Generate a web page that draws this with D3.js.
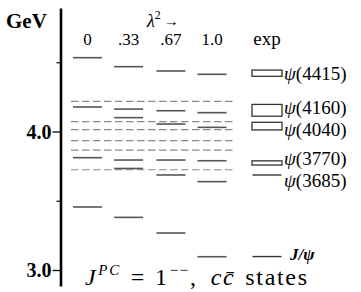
<!DOCTYPE html>
<html>
<head>
<meta charset="utf-8">
<script src="https://cdn.jsdelivr.net/npm/d3@7"></script>
<style>
  body { margin: 0; background: #fff; }
  svg { display: block; }
  text { font-family: "Liberation Serif", serif; fill: #000; }
  .level { stroke: #555; stroke-width: 1.6; }
  .threshold { stroke: #8a8a8a; stroke-width: 1.2; stroke-dasharray: 7.5 3.5; }
  .exp-box { fill: #fff; stroke: #333; stroke-width: 1.3; }
  .exp-line { stroke: #333; stroke-width: 1.4; }
</style>
</head>
<body>
<svg id="chart" width="361" height="292" font-family="Liberation Serif"></svg>
<script>
  // model strength columns
  const lambdaSq = [0, 0.33, 0.67, 1.0];
  const colLabels = ['0', '.33', '.67', '1.0'];

  // predicted 1-- charmonium levels (GeV) for each lambda^2
  const levels0 = [4.533, 4.177, 3.811, 3.455];
  const levels33 = [4.468, 4.162, 4.100, 3.794, 3.733, 3.380];
  const levels67 = [4.437, 4.150, 4.054, 3.794, 3.686, 3.267];
  const levels100 = [4.413, 4.136, 4.030, 3.789, 3.638, 3.096];

  // open-charm thresholds (dashed)
  const thresholds = [4.217, 4.072, 4.014, 3.934, 3.866, 3.724];

  // experimental states
  const expNames = ['ψ(4415)', 'ψ(4160)', 'ψ(4040)', 'ψ(3770)', 'ψ(3685)', 'J/ψ'];
  const expMass = [4.421, 4.153, 4.039, 3.773, 3.686, 3.097];
  const expWidth = [0.045, 0.085, 0.055, 0.03, 0, 0];

  const FONT = 'Liberation Serif';
  const svg = d3.select('#chart');

  const y = d3.scaleLinear().domain([2.8845, 4.8917]).range([286, 8]);
  const x = d3.scaleLinear().domain([0, 1]).range([87.5, 212]);
  const expX = x(1) + 55;
  const half = 14.5;
  const axisX = 60.5;

  // axis
  const axisMajor = d3.axisLeft(y)
    .tickValues([3.0, 4.0])
    .tickSize(8)
    .tickSizeOuter(0)
    .tickPadding(1)
    .tickFormat(d3.format('.1f'));

  const gMajor = svg.append('g')
    .attr('transform', `translate(${axisX},0)`)
    .call(axisMajor)
    .attr('font-family', FONT);
  gMajor.select('.domain').attr('stroke', '#000').attr('stroke-width', 2.6);
  gMajor.selectAll('.tick line').attr('stroke-width', 1.3);
  gMajor.selectAll('.tick text')
    .attr('font-family', FONT)
    .attr('font-weight', 'bold')
    .attr('font-size', 20)
    .attr('dy', '0.33em');

  const gMinor = svg.append('g')
    .attr('transform', `translate(${axisX},0)`)
    .call(d3.axisLeft(y).tickValues([3.5, 4.5]).tickSize(4).tickFormat(''));
  gMinor.select('.domain').remove();
  gMinor.selectAll('.tick line').attr('stroke-width', 1.2);

  svg.append('text')
    .attr('x', 6).attr('y', 28)
    .attr('font-family', FONT)
    .attr('font-weight', 'bold').attr('font-size', 21)
    .text('GeV');

  // header
  const lam = svg.append('text')
    .attr('x', 147).attr('y', 27)
    .attr('font-family', FONT)
    .attr('font-size', 18);
  lam.append('tspan').attr('font-style', 'italic').text('λ');
  lam.append('tspan').attr('font-size', 12).attr('dy', -8).text('2');
  lam.append('tspan').attr('dy', 7).attr('dx', 3).attr('font-weight', 'bold').attr('font-size', 15).text('→');

  svg.append('g').selectAll('text')
    .data(colLabels)
    .join('text')
    .attr('x', (d, i) => x(lambdaSq[i]))
    .attr('y', 44.5)
    .attr('text-anchor', 'middle')
    .attr('font-family', FONT)
    .attr('font-size', 17)
    .text(d => d);

  svg.append('text')
    .attr('x', expX).attr('y', 44.5)
    .attr('text-anchor', 'middle')
    .attr('font-family', FONT)
    .attr('font-size', 19)
    .text('exp');

  // thresholds
  svg.append('g').selectAll('line')
    .data(thresholds)
    .join('line')
    .attr('class', 'threshold')
    .attr('x1', 71).attr('x2', 234)
    .attr('y1', d => y(d)).attr('y2', d => y(d));

  // theory levels
  const columns = [levels0, levels33, levels67, levels100];
  columns.forEach((levels, i) => {
    const cx = x(lambdaSq[i]);
    svg.append('g').selectAll('line')
      .data(levels)
      .join('line')
      .attr('class', 'level')
      .attr('x1', cx - half).attr('x2', cx + half)
      .attr('y1', d => y(d)).attr('y2', d => y(d));
  });

  // experiment
  const expData = expNames.map((name, i) => ({ name, mass: expMass[i], w: expWidth[i] }));
  const gExp = svg.append('g');
  gExp.selectAll('rect')
    .data(expData.filter(d => d.w > 0))
    .join('rect')
    .attr('class', 'exp-box')
    .attr('x', expX - half - 0.5)
    .attr('width', 2 * half + 1)
    .attr('y', d => y(d.mass + d.w / 2))
    .attr('height', d => y(d.mass - d.w / 2) - y(d.mass + d.w / 2));
  gExp.selectAll('line')
    .data(expData.filter(d => d.w === 0))
    .join('line')
    .attr('class', 'exp-line')
    .attr('x1', expX - half).attr('x2', expX + half)
    .attr('y1', d => y(d.mass)).attr('y2', d => y(d.mass));

  // label positions: push apart labels that would overlap
  const labelPos = expData.map(d => y(d.mass));
  for (let k = 0; k < 20; k++) {
    for (let i = 0; i < labelPos.length - 1; i++) {
      const gap = labelPos[i + 1] - labelPos[i];
      if (gap < 22) {
        const shift = (22 - gap) / 2;
        labelPos[i] -= shift;
        labelPos[i + 1] += shift;
      }
    }
  }

  const labels = gExp.selectAll('text')
    .data(expData)
    .join('text')
    .attr('x', expX + 17)
    .attr('y', (d, i) => labelPos[i] + 7)
    .attr('font-family', FONT)
    .attr('font-size', 19);
  labels.each(function (d) {
    const t = d3.select(this);
    if (d.name === 'J/ψ') {
      t.attr('font-style', 'italic').attr('font-weight', 'bold')
        .attr('font-size', 17).attr('dx', 6).attr('dy', -4).text(d.name);
    } else {
      t.append('tspan').attr('font-style', 'italic').text('ψ');
      t.append('tspan').text(d.name.slice(1));
    }
  });

  // caption, with TeX-like spacing
  const cap = svg.append('text')
    .attr('x', 85).attr('y', 285)
    .attr('font-family', FONT)
    .attr('font-size', 24);
  cap.append('tspan').attr('font-style', 'italic').text('J');
  cap.append('tspan').attr('font-style', 'italic').attr('font-size', 15).attr('dx', 1).attr('dy', -10).text('PC');
  cap.append('tspan').attr('dy', 10).attr('dx', 10).text('=');
  cap.append('tspan').attr('dx', 9).text('1');
  cap.append('tspan').attr('font-size', 15).attr('dx', 1).attr('dy', -10).text('−−');
  cap.append('tspan').attr('dy', 10).text(',');
  cap.append('tspan').attr('dx', 13).attr('font-style', 'italic').text('cc\u0304');
  cap.append('tspan').attr('dx', 10).text('states');

  // keep the caption's overall span as in the reference
  const capLen = cap.node().getComputedTextLength();
  if (capLen < 222) {
    cap.attr('textLength', 222).attr('lengthAdjust', 'spacing');
  }
</script>
</body>
</html>
